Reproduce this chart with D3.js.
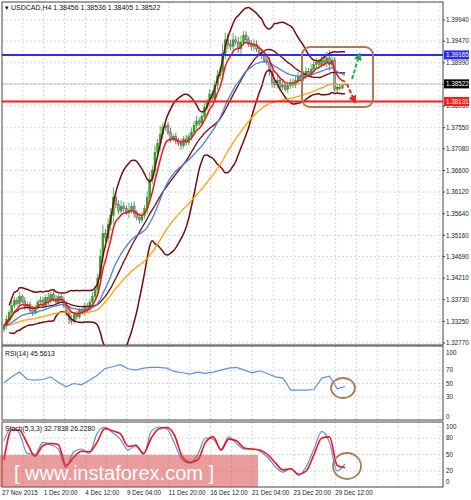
<!DOCTYPE html>
<html><head><meta charset="utf-8">
<script src="https://cdn.jsdelivr.net/npm/d3@7"></script>
<style>body{margin:0;background:#fff}svg{display:block;font-family:"Liberation Sans",Arial,sans-serif}</style>
</head><body><svg id="c" width="471" height="500"></svg>
<script>
const closes=[1.3315,1.3330,1.3345,1.3360,1.3372,1.3365,1.3380,1.3370,1.3358,1.3362,1.3350,1.3345,
1.3355,1.3368,1.3372,1.3360,1.3378,1.3370,1.3385,1.3375,1.3368,1.3380,1.3372,1.3360,
1.3345,1.3330,1.3325,1.3340,1.3335,1.3350,1.3345,1.3358,1.3352,1.3368,1.3380,1.3395,
1.3420,1.3470,1.3520,1.3510,1.3540,1.3560,1.3600,1.3585,1.3570,1.3580,1.3575,1.3568,
1.3572,1.3580,1.3565,1.3555,1.3550,1.3560,1.3575,1.3600,1.3640,1.3660,1.3700,1.3720,
1.3740,1.3755,1.3760,1.3745,1.3730,1.3735,1.3725,1.3720,1.3715,1.3730,1.3722,1.3735,
1.3745,1.3760,1.3770,1.3765,1.3780,1.3800,1.3810,1.3830,1.3820,1.3850,1.3870,1.3880,
1.3920,1.3950,1.3940,1.3935,1.3950,1.3945,1.3930,1.3945,1.3960,1.3950,1.3940,1.3935,
1.3940,1.3930,1.3920,1.3915,1.3905,1.3900,1.3880,1.3855,1.3850,1.3860,1.3845,1.3850,
1.3840,1.3848,1.3855,1.3850,1.3860,1.3868,1.3865,1.3872,1.3880,1.3875,1.3885,1.3895,
1.3900,1.3895,1.3905,1.3900,1.3910,1.3895,1.3905,1.3840,1.3845,1.3842,1.3850,1.3852];
const wicks=[6,8,5,9,7,6,10,5,8,6,7,9,6,5,8,7,6,9,5,7,8,6,5,7,9,12,8,6,7,5,6,8,7,6,9,8,
10,14,18,9,12,15,20,10,8,12,9,7,15,8,10,6,9,7,8,12,15,10,14,9,18,10,8,7,9,6,8,7,10,6,8,7,
9,8,10,7,6,9,8,10,7,9,12,8,20,15,12,9,14,8,10,12,9,8,7,9,10,8,7,9,6,8,10,12,8,9,7,8,
6,9,8,7,8,10,6,8,9,7,10,8,9,7,8,9,12,15,8,6,7,5];
const priceTicks=["1.39940","1.39470","1.38990","1.38510","1.38030","1.37550","1.37080","1.36600","1.36120","1.35640","1.35160","1.34690","1.34210","1.33730","1.33250","1.32770"];
const dateLabels=["27 Nov 2015","1 Dec 20:00","4 Dec 12:00","9 Dec 04:00","11 Dec 20:00","16 Dec 12:00","21 Dec 04:00","23 Dec 20:00","29 Dec 12:00"];
const rsi=[51,60,67,56,55,56,60,52,45,50,48,55,62,72,75,78,72,70,73,74,74,73,68,66,64,67,65,67,70,73,74,70,66,69,65,60,58,40,40,40,41,58,61,42,45.6];
const stochSig=[40,95,94,70,47,66,70,68,30,45,56,55,72,97,93,88,65,66,52,80,97,99,85,46,36,40,72,82,58,78,75,62,60,58,50,35,22,24,14,20,50,80,82,30,26.2];
const stochMain=[75,100,88,52,50,72,68,60,26,55,60,52,88,100,90,78,58,68,50,92,100,97,70,40,34,50,80,78,60,82,70,60,60,56,45,28,18,25,12,28,60,92,72,20,32.8];

const svg=d3.select("#c");
const L=2,R=443,T=2,MB=345,RT=346,RB=420,ST=422,SB=487;
const n=closes.length;
const x=d3.scaleLinear().domain([0,n-1]).range([4,345]);
const y=d3.scaleLinear().domain([1.3277,1.3994]).range([343,20]);
const yR=d3.scaleLinear().domain([0,100]).range([417,350]);
const yS=d3.scaleLinear().domain([0,100]).range([482,427]);
const xs=d3.scaleLinear().domain([0,rsi.length-1]).range([x(0),x(n-1)]);

const gridG=svg.append("g").attr("stroke","#c8c8c8").attr("stroke-dasharray","2,2").attr("stroke-width",0.7);
for(let gx=L+20.85;gx<R;gx+=20.85){
  [[T,MB],[RT,RB],[ST,SB]].forEach(([a,b])=>gridG.append("line").attr("x1",gx).attr("x2",gx).attr("y1",a).attr("y2",b));
}
priceTicks.forEach(t=>gridG.append("line").attr("x1",L).attr("x2",R).attr("y1",y(+t)).attr("y2",y(+t)));
[30,50,70].forEach(v=>gridG.append("line").attr("x1",L).attr("x2",R).attr("y1",yR(v)).attr("y2",yR(v)));
[20,50,80].forEach(v=>gridG.append("line").attr("x1",L).attr("x2",R).attr("y1",yS(v)).attr("y2",yS(v)));

const ema=(p)=>{const k=2/(p+1);let e=closes[0];return closes.map(c=>e=c*k+e*(1-k));};
const bb=closes.map((c,i)=>{const w=closes.slice(Math.max(0,i-19),i+1);const m=d3.mean(w);const s=d3.deviation(w)||0;return {m,u:m+2*s,l:m-2*s};});
svg.append("clipPath").attr("id","mc").append("rect").attr("x",L).attr("y",T).attr("width",R-L).attr("height",MB-T);
const mg=svg.append("g").attr("clip-path","url(#mc)");
const line=d3.line().x((d,i)=>x(i)).y(d=>y(d)).curve(d3.curveMonotoneX);
const lineFrom=(arr,s)=>d3.line().defined((d,i)=>i>=s).x((d,i)=>x(i)).y(d=>y(d)).curve(d3.curveMonotoneX)(arr);

const cg=mg.append("g");
closes.forEach((c,i)=>{
  const o=i?closes[i-1]:c-0.0008;const w=wicks[i]/10000;
  const hi=Math.max(o,c)+w*1.1, lo=Math.min(o,c)-w*0.9;
  const up=c>=o;
  cg.append("line").attr("x1",x(i)).attr("x2",x(i)).attr("y1",y(hi)).attr("y2",y(lo)).attr("stroke",up?"#3a9a3a":"#555").attr("stroke-width",0.8);
  cg.append("rect").attr("x",x(i)-1).attr("width",2).attr("y",y(Math.max(o,c))).attr("height",Math.max(0.8,Math.abs(y(o)-y(c)))).attr("fill",up?"#28a828":"#a0a0a0").attr("stroke",up?"#1a9a1a":"#444").attr("stroke-width",0.4);
});
mg.append("path").attr("d",lineFrom(bb.map(d=>d.u),2)).attr("fill","none").attr("stroke","#7a0a0a").attr("stroke-width",1.5);
mg.append("path").attr("d",lineFrom(bb.map(d=>d.l),2)).attr("fill","none").attr("stroke","#7a0a0a").attr("stroke-width",1.5);
mg.append("path").attr("d",line(bb.map(d=>d.m))).attr("fill","none").attr("stroke","#7a0a0a").attr("stroke-width",1.3);
mg.append("path").attr("d",line(ema(50))).attr("fill","none").attr("stroke","#ffa500").attr("stroke-width",1.3);
mg.append("path").attr("d",line(ema(21))).attr("fill","none").attr("stroke","#4a7fe8").attr("stroke-width",1.3);
mg.append("path").attr("d",line(ema(6))).attr("fill","none").attr("stroke","#ff1010").attr("stroke-width",1.5);

const levels=[{v:1.39165,c:"#2b2bff",t:"1.39165"},{v:1.38131,c:"#ff1a1a",t:"1.38131"}];
levels.forEach(l=>svg.append("line").attr("x1",L).attr("x2",R).attr("y1",y(l.v)).attr("y2",y(l.v)).attr("stroke",l.c).attr("stroke-width",2));
svg.append("line").attr("x1",L).attr("x2",R).attr("y1",y(1.38522)).attr("y2",y(1.38522)).attr("stroke","#aaa").attr("stroke-width",0.6);

svg.append("rect").attr("x",302).attr("y",47).attr("width",71).attr("height",60).attr("rx",8).attr("fill","none").attr("stroke","#b07a55").attr("stroke-width",2);
svg.append("defs").html('<marker id="ag" viewBox="0 0 10 10" refX="5" refY="5" markerWidth="4" markerHeight="4" orient="auto"><path d="M0,0L10,5L0,10z" fill="#22aa44"/></marker><marker id="ar" viewBox="0 0 10 10" refX="5" refY="5" markerWidth="4" markerHeight="4" orient="auto"><path d="M0,0L10,5L0,10z" fill="#ee2222"/></marker>');
svg.append("line").attr("x1",352).attr("y1",79).attr("x2",359).attr("y2",56).attr("stroke","#22aa44").attr("stroke-width",2).attr("stroke-dasharray","4,2").attr("marker-end","url(#ag)");
svg.append("line").attr("x1",347).attr("y1",84).attr("x2",354).attr("y2",100).attr("stroke","#ee2222").attr("stroke-width",2).attr("stroke-dasharray","4,2").attr("marker-end","url(#ar)");

svg.append("path").attr("d",d3.line().x((d,i)=>xs(i)).y(d=>yR(d))(rsi)).attr("fill","none").attr("stroke","#5b8ff0").attr("stroke-width",1.2);
svg.append("path").attr("d",d3.line().x((d,i)=>xs(i)).y(d=>yS(d)).curve(d3.curveMonotoneX)(stochMain)).attr("fill","none").attr("stroke","#5b8ff0").attr("stroke-width",1.2);
svg.append("path").attr("d",d3.line().x((d,i)=>xs(i)).y(d=>yS(d)).curve(d3.curveMonotoneX)(stochSig)).attr("fill","none").attr("stroke","#ff1010").attr("stroke-width",1.6);
svg.append("ellipse").attr("cx",343).attr("cy",388).attr("rx",12).attr("ry",10).attr("fill","none").attr("stroke","#b07a55").attr("stroke-width",1.8);
svg.append("ellipse").attr("cx",347).attr("cy",466).attr("rx",14).attr("ry",13).attr("fill","none").attr("stroke","#b07a55").attr("stroke-width",1.8);

[[T,MB],[RT,RB],[ST,SB]].forEach(([a,b])=>svg.append("rect").attr("x",L).attr("y",a).attr("width",R-L).attr("height",b-a).attr("fill","none").attr("stroke","#444").attr("stroke-width",1));

const ax=svg.append("g").attr("font-size",6.3).attr("fill","#222");
priceTicks.forEach(t=>{ax.append("line").attr("x1",R).attr("x2",R+2).attr("y1",y(+t)).attr("y2",y(+t)).attr("stroke","#444");ax.append("text").attr("x",R+3).attr("y",y(+t)+2.2).text(t);});
[...levels,{v:1.38522,c:"#000",t:"1.38522"}].forEach(l=>{svg.append("rect").attr("x",R+1).attr("y",y(l.v)-4.5).attr("width",25).attr("height",9).attr("fill",l.c);svg.append("text").attr("x",R+3).attr("y",y(l.v)+2.3).attr("font-size",6.3).attr("fill","#fff").text(l.t);});
[[100,353],[70,yR(70)],[50,yR(50)],[30,yR(30)],[0,yR(0)]].forEach(([v,yy])=>ax.append("text").attr("x",R+3).attr("y",yy+2.2).text(v));
[[100,yS(100)],[80,yS(80)],[50,yS(50)],[20,yS(20)],[0,yS(0)]].forEach(([v,yy])=>ax.append("text").attr("x",R+3).attr("y",yy+2.2).text(v));

svg.append("rect").attr("x",0).attr("y",455).attr("width",258).attr("height",32).attr("fill","rgba(215,60,60,0.5)");
svg.append("text").attr("x",14).attr("y",480).attr("font-size",20).attr("fill","#fff").text("[  www.instaforex.com ]");

dateLabels.forEach((d,i)=>svg.append("text").attr("x",2+i*41.65).attr("y",495).attr("font-size",6.3).attr("fill","#222").text(d));

svg.append("text").attr("x",5).attr("y",10).attr("font-size",7).attr("fill","#111").text("▾ USDCAD,H4  1.38456 1.38536 1.38405 1.38522");
svg.append("text").attr("x",5).attr("y",356).attr("font-size",6.8).attr("fill","#111").text("RSI(14) 45.5613");
svg.append("text").attr("x",5).attr("y",431).attr("font-size",6.8).attr("fill","#111").text("Stoch(5,3,3) 32.7838 26.2280");
</script></body></html>
